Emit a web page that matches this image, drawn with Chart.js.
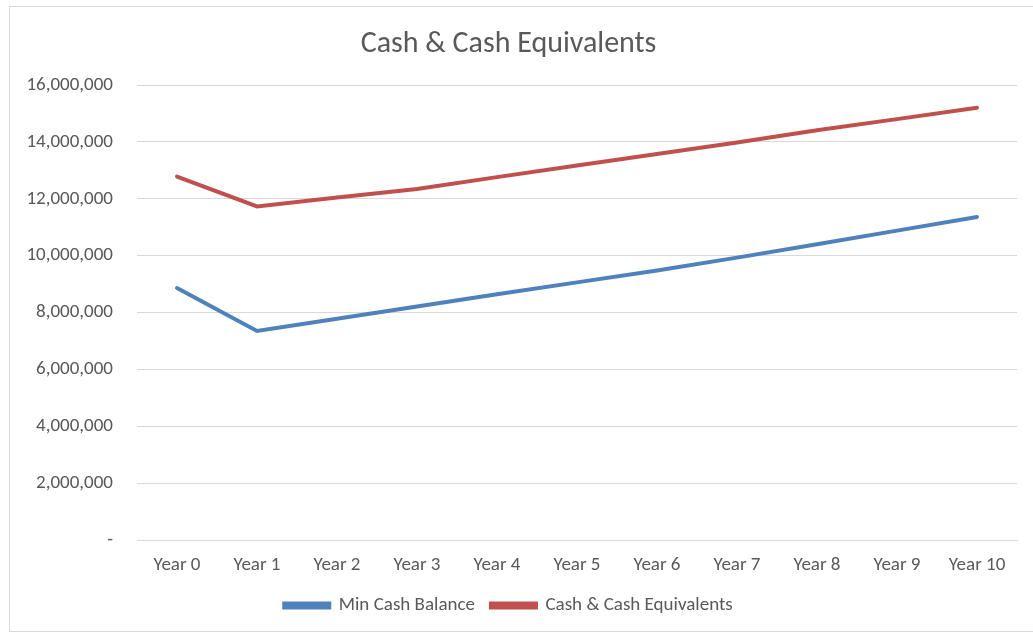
<!DOCTYPE html>
<html>
<head>
<meta charset="utf-8">
<script src="https://cdn.jsdelivr.net/npm/chart.js@4"></script>
<style>
  html, body { margin: 0; padding: 0; background: #fff; }
  #wrap { position: relative; width: 1033px; height: 633px; overflow: hidden; }
  #frame { position: absolute; left: 9px; top: 6px; width: 1040px; height: 626px; border: 1px solid #d9d9d9; box-sizing: border-box; }
  #chartMain { position: absolute; left: 0; top: 0; }
</style>
</head>
<body>
<div id="wrap">
  <div id="frame"></div>
  <canvas id="chartMain" width="1033" height="633"></canvas>
</div>
<script>
// =========================
//  Data
// =========================

const years = ["Year 0", "Year 1", "Year 2", "Year 3", "Year 4", "Year 5",
  "Year 6", "Year 7", "Year 8", "Year 9", "Year 10"];

const minCash = [8860000, 7350000, 7780000, 8210000, 8640000, 9060000,
  9480000, 9930000, 10400000, 10880000, 11360000];

const cashEquiv = [12780000, 11730000, 12040000, 12340000, 12760000, 13170000,
  13570000, 13980000, 14410000, 14800000, 15200000];

const yTicks = [0, 2000000, 4000000, 6000000, 8000000, 10000000,
  12000000, 14000000, 16000000];

const FONT = "Calibri, Carlito, Lato, 'Open Sans', sans-serif";
const GREY = "#595959";

// =========================
//  Chart
// =========================

const ctx = document.getElementById("chartMain").getContext("2d");

new Chart(ctx, {
  type: "line",
  data: {
    labels: years,
    datasets: [
      {
        label: "Min Cash Balance",
        data: minCash,
        borderColor: "#4f81bd",
        backgroundColor: "#4f81bd",
        borderWidth: 4,
        pointRadius: 0,
        tension: 0,
        borderCapStyle: "round",
      },
      {
        label: "Cash & Cash Equivalents",
        data: cashEquiv,
        borderColor: "#c0504d",
        backgroundColor: "#c0504d",
        borderWidth: 4,
        pointRadius: 0,
        tension: 0,
        borderCapStyle: "round",
      },
    ],
  },
  options: {
    responsive: false,
    animation: false,
    layout: { padding: { left: 0, right: 16, top: 0, bottom: 8 } },
    scales: {
      x: {
        offset: true,
        grid: { display: false, drawTicks: false },
        border: { display: true, color: "#d9d9d9", width: 1 },
        ticks: { color: GREY, font: { family: FONT, size: 19 }, padding: 14, maxRotation: 0 },
        afterFit: (s) => { s.height = 40; },
      },
      y: {
        min: 0,
        max: 16000000,
        afterBuildTicks: (s) => { s.ticks = yTicks.map(v => ({ value: v })); },
        grid: { color: "#d9d9d9", lineWidth: 1, drawTicks: false },
        border: { display: false },
        ticks: {
          color: GREY,
          font: { family: FONT, size: 19 },
          padding: 24,
          callback: (v) => v === 0 ? "-" : v.toLocaleString("en-US"),
        },
        afterFit: (s) => { s.width = 137; },
      },
    },
    plugins: {
      title: {
        display: true,
        text: "Cash & Cash Equivalents",
        color: GREY,
        font: { family: FONT, size: 30, weight: "normal" },
        padding: { top: 26, bottom: 23 },
      },
      legend: {
        position: "bottom",
        labels: {
          color: GREY,
          font: { family: FONT, size: 19 },
          boxWidth: 45,
          boxHeight: 4,
          padding: 16,
        },
      },
      tooltip: { enabled: false },
    },
  },
});
</script>
</body>
</html>
